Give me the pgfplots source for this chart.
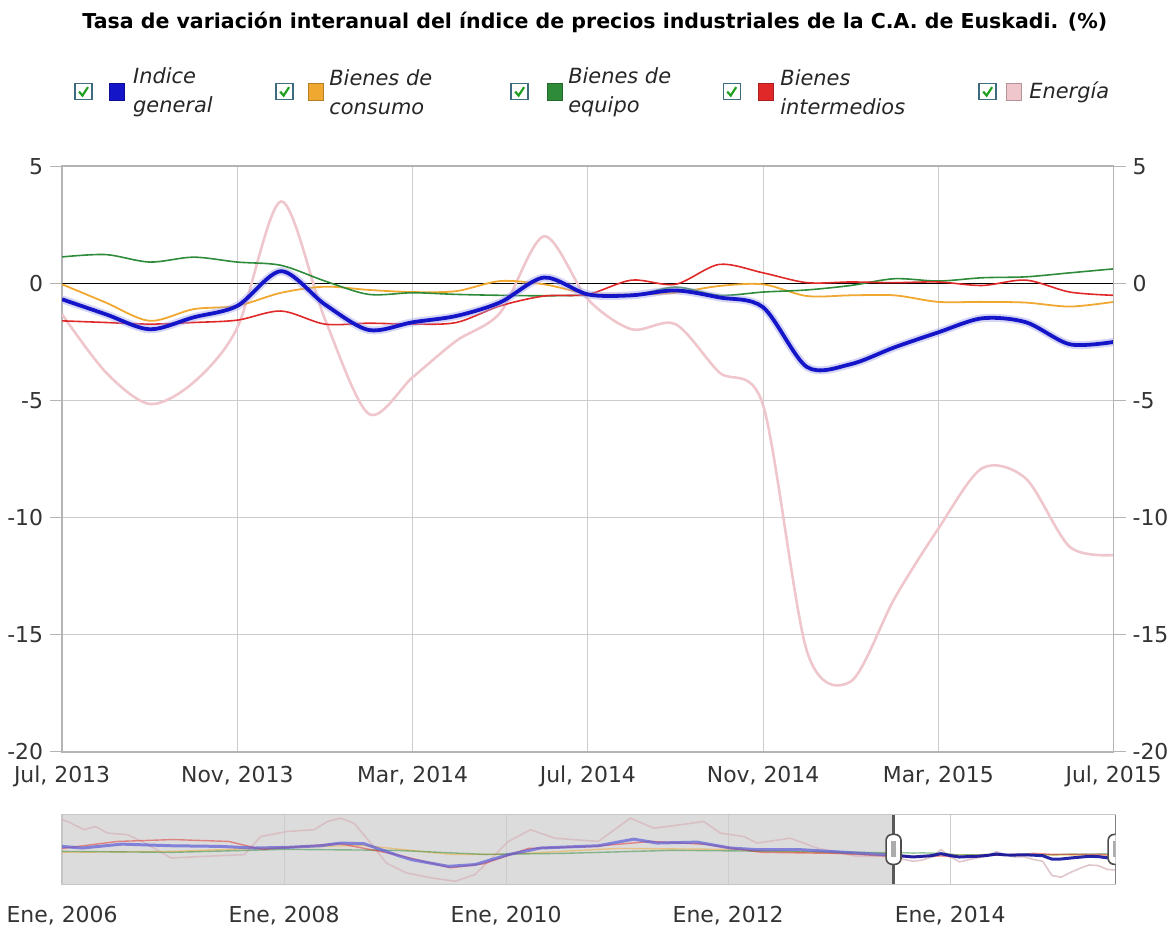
\documentclass[border=0pt]{standalone}
\usepackage{fontspec}
\setmainfont{DejaVu Sans}
\usepackage{pgfplots}
\usepackage{pgfplotstable}
\pgfplotsset{compat=1.18}

\definecolor{cblue}{HTML}{1414C8}
\definecolor{corange}{HTML}{F0A830}
\definecolor{cgreen}{HTML}{2E8B3A}
\definecolor{cred}{HTML}{E02828}
\definecolor{cpink}{HTML}{EEC6CC}
\definecolor{gridc}{HTML}{CCCCCC}
\definecolor{axisc}{HTML}{B4B4B4}
\definecolor{navfill}{HTML}{DCDCDC}
\definecolor{boxc}{HTML}{3D6B80}
\definecolor{checkc}{HTML}{22A022}

% months since Jul 2013: b=Indice general, c=consumo, e=equipo, i=intermedios, en=Energia
\pgfplotstableread{
m  b      c      e      i      en
0  -0.68  -0.04  1.13   -1.60  -1.32
1  -1.32  -0.82  1.23   -1.67  -3.80
2  -1.96  -1.60  0.91   -1.74  -5.15
3  -1.45  -1.10  1.12   -1.67  -4.23
4  -0.96  -0.96  0.91   -1.57  -1.89
5  0.52   -0.40  0.77   -1.18  3.50
6  -0.90  -0.14  0.10   -1.74  -1.53
7  -1.99  -0.28  -0.47  -1.70  -5.57
8  -1.66  -0.37  -0.40  -1.74  -4.01
9  -1.39  -0.33  -0.47  -1.67  -2.45
10 -0.81  0.10   -0.51  -0.96  -1.25
11 0.25   -0.04  -0.53  -0.54  2.01
12 -0.47  -0.44  -0.51  -0.47  -0.68
13 -0.51  -0.47  -0.53  0.14   -1.96
14 -0.30  -0.40  -0.16  -0.04  -1.74
15 -0.60  -0.11  -0.51  0.81   -3.80
16 -1.02  -0.04  -0.37  0.45   -5.20
17 -3.57  -0.54  -0.28  0.03   -15.70
18 -3.45  -0.51  -0.09  0.06   -17.00
19 -2.73  -0.51  0.20   0.03   -13.45
20 -2.09  -0.79  0.10   0.06   -10.47
21 -1.49  -0.79  0.24   -0.09  -7.89
22 -1.66  -0.82  0.28   0.14   -8.34
23 -2.60  -0.99  0.45   -0.37  -11.25
24 -2.50  -0.79  0.62   -0.51  -11.60
}\main

% navigator history before Jul 2013 (x in years)
\pgfplotstableread{
x y
2006.00 5.9
2006.18 4.7
2006.54 7.6
2006.98 6.4
2007.43 5.9
2007.73 4.7
2008.03 5.2
2008.33 6.4
2008.51 8.4
2008.72 7.9
2008.92 2.2
2009.03 -1.0
2009.15 -4.0
2009.48 -8.9
2009.72 -7.6
2010.02 -0.2
2010.31 4.7
2010.83 6.4
2011.15 11.3
2011.36 8.4
2011.72 9.1
2012.02 4.7
2012.26 3.5
2012.65 3.5
2013.50 -0.68
}\navB

\pgfplotstableread{
x y
2006.00 25.7
2006.05 24.4
2006.20 18.3
2006.30 20.7
2006.41 15.8
2006.59 14.6
2006.75 8.4
2006.98 -2.7
2007.28 -1.5
2007.64 -0.2
2007.79 13.3
2008.03 17.0
2008.27 18.3
2008.39 24.4
2008.51 26.9
2008.63 23.2
2008.78 8.4
2008.92 -6.4
2009.10 -13.8
2009.33 -17.5
2009.54 -20.0
2009.72 -15.0
2010.02 9.6
2010.22 18.3
2010.44 12.0
2010.83 9.6
2011.12 26.9
2011.33 19.5
2011.57 22.0
2011.78 24.4
2011.93 15.8
2012.14 13.3
2012.26 8.4
2012.56 12.0
2012.80 4.7
2013.16 -1.5
2013.50 -1.32
}\navEn

\pgfplotstableread{
x y
2006.00 4.4
2006.50 9.6
2007.00 11.0
2007.50 9.6
2007.80 3.7
2008.50 8.0
2009.00 0.0
2009.50 -10.0
2009.80 -7.0
2010.20 4.4
2010.80 6.0
2011.30 9.6
2011.80 7.4
2012.30 1.5
2013.00 0.7
2013.50 -1.60
}\navI

\pgfplotstableread{
x y
2006.00 2.2
2007.00 1.5
2008.00 3.7
2009.00 3.0
2009.80 0.0
2010.50 0.7
2011.50 3.0
2012.50 2.2
2013.50 1.13
}\navE

\pgfplotstableread{
x y
2006.00 1.5
2007.00 2.2
2008.00 5.2
2008.70 6.7
2009.50 0.0
2010.00 0.0
2011.00 4.4
2012.00 3.7
2013.00 0.7
2013.50 -0.04
}\navC

\newcommand{\legitem}[5]{%
  \draw[draw=boxc, fill=white, line width=0.7pt] (#1,826) rectangle ++(17,16);
  \draw[checkc, line width=1.1pt] (#1+4,834) -- (#1+7.5,830) -- (#1+13,838.5);
  \fill[#3] (#2,825) rectangle ++(15,17);
  \draw[#3!75!black, line width=0.3pt] (#2,825) rectangle ++(15,17);
  \node[anchor=west, align=left, inner sep=0pt, font=\itshape\fontsize{10.5}{14.5}\selectfont, text=black!85] at (#4,833) {#5};
}

\begin{document}
\begin{tikzpicture}
\begin{scope}[x=0.5pt,y=0.5pt]
  \useasboundingbox (0,0) rectangle (1175,926);
  \node[font=\bfseries\fontsize{10.3}{12}\selectfont, text=black] at (597,903)
    {Tasa de variación interanual del índice de precios industriales de la C.A. de Euskadi. (\%)};
  \legitem{75}{109}{cblue}{133}{Indice\\general}
  \legitem{277}{309}{corange}{330}{Bienes de\\consumo}
  \legitem{513}{549}{cgreen}{570}{Bienes de\\equipo}
  \legitem{726}{761}{cred}{783}{Bienes\\intermedios}
  \legitem{983}{1010}{cpink}{1033}{Energía}
\end{scope}

% main chart
\begin{axis}[
  at={(31pt,85.5pt)}, anchor=south west,
  width=528pt, height=294pt, scale only axis,
  xmin=0, xmax=24, ymin=-20, ymax=5,
  xtick={0,4,...,24},
  xticklabels={{Jul, 2013},{Nov, 2013},{Mar, 2014},{Jul, 2014},{Nov, 2014},{Mar, 2015},{Jul, 2015}},
  ytick={-20,-15,...,5},
  grid=major, grid style={gridc, line width=0.5pt},
  axis line style={axisc, line width=0.8pt},
  tick style={axisc, line width=0.6pt},
  xtick style={draw=none},
  tick align=outside, major tick length=6pt,
  xtick pos=bottom, ytick pos=left,
  ticklabel style={font=\fontsize{11}{13}\selectfont, text=black!80},
  xticklabel style={yshift=2.5pt},
  /pgf/number format/assume math mode=true,
]
\addplot[black, line width=0.65pt] coordinates {(0,0) (24,0)};
\addplot[cpink, line width=1.3pt, smooth] table[x=m, y=en] {\main};
\addplot[corange, line width=0.9pt, smooth] table[x=m, y=c] {\main};
\addplot[cgreen, line width=0.8pt, smooth] table[x=m, y=e] {\main};
\addplot[cred, line width=0.8pt, smooth] table[x=m, y=i] {\main};
\addplot[cblue!40, line width=4pt, opacity=0.45, smooth] table[x=m, y=b] {\main};
\addplot[cblue, line width=1.9pt, smooth] table[x=m, y=b] {\main};
\end{axis}

% right-hand labels
\begin{axis}[
  at={(31pt,85.5pt)}, anchor=south west,
  width=528pt, height=294pt, scale only axis,
  xmin=0, xmax=24, ymin=-20, ymax=5,
  axis x line=none, axis y line*=right,
  ytick={-20,-15,...,5},
  axis line style={axisc, line width=0.8pt},
  tick style={axisc, line width=0.6pt},
  tick align=outside, major tick length=6pt,
  ticklabel style={font=\fontsize{11}{13}\selectfont, text=black!80},
  /pgf/number format/assume math mode=true,
]
\addplot[draw=none] coordinates {(0,0)};
\end{axis}

% navigator
\begin{axis}[
  at={(31pt,19pt)}, anchor=south west,
  width=529pt, height=35pt, scale only axis,
  xmin=2006, xmax=2015.49, ymin=-22.2, ymax=29.6,
  xtick={2006,2008,...,2014},
  xticklabels={{Ene, 2006},{Ene, 2008},{Ene, 2010},{Ene, 2012},{Ene, 2014}},
  ytick=\empty,
  xmajorgrids, grid style={gridc, line width=0.5pt},
  axis line style={gray!45, line width=0.6pt},
  major tick length=0pt,
  ticklabel style={font=\fontsize{11}{13}\selectfont, text=black!80},
  xticklabel style={yshift=-7.5pt},
  set layers,
]
\begin{pgfonlayer}{axis background}
  \fill[navfill] (axis cs:2006,-22.2) rectangle (axis cs:2013.49,29.6);
\end{pgfonlayer}
\addplot[cpink!80!gray, line width=0.8pt, opacity=0.8] table[x=x, y=y] {\navEn};
\addplot[cpink!80!gray, line width=0.8pt, opacity=0.8] table[x expr=2013.5+\thisrow{m}/12, y=en] {\main};
\addplot[corange, line width=0.7pt, opacity=0.5] table[x=x, y=y] {\navC};
\addplot[corange, line width=0.7pt, opacity=0.5] table[x expr=2013.5+\thisrow{m}/12, y=c] {\main};
\addplot[cgreen, line width=0.7pt, opacity=0.5] table[x=x, y=y] {\navE};
\addplot[cgreen, line width=0.7pt, opacity=0.5] table[x expr=2013.5+\thisrow{m}/12, y=e] {\main};
\addplot[cred, line width=0.7pt, opacity=0.5] table[x=x, y=y] {\navI};
\addplot[cred, line width=0.7pt, opacity=0.5] table[x expr=2013.5+\thisrow{m}/12, y=i] {\main};
\addplot[cblue!70, line width=1.5pt, opacity=0.7] table[x=x, y=y] {\navB};
\addplot[cblue!80!black, line width=1.5pt, opacity=0.9] table[x expr=2013.5+\thisrow{m}/12, y=b] {\main};
\draw[black!65, line width=1.1pt] (axis cs:2013.49,-22.2) -- (axis cs:2013.49,29.6);
\draw[black!65, line width=1.1pt] (axis cs:2015.49,-22.2) -- (axis cs:2015.49,29.6);
\node[draw=black!70, fill=white, rounded corners=3pt, line width=0.8pt, minimum width=7.5pt, minimum height=15pt, inner sep=0pt] at (axis cs:2013.49,3.7) {};
\node[fill=gray!65, minimum width=2.5pt, minimum height=8pt, inner sep=0pt] at (axis cs:2013.49,3.7) {};
\node[draw=black!70, fill=white, rounded corners=3pt, line width=0.8pt, minimum width=7.5pt, minimum height=15pt, inner sep=0pt] at (axis cs:2015.49,3.7) {};
\node[fill=gray!65, minimum width=2.5pt, minimum height=8pt, inner sep=0pt] at (axis cs:2015.49,3.7) {};
\end{axis}
\end{tikzpicture}
\end{document}
